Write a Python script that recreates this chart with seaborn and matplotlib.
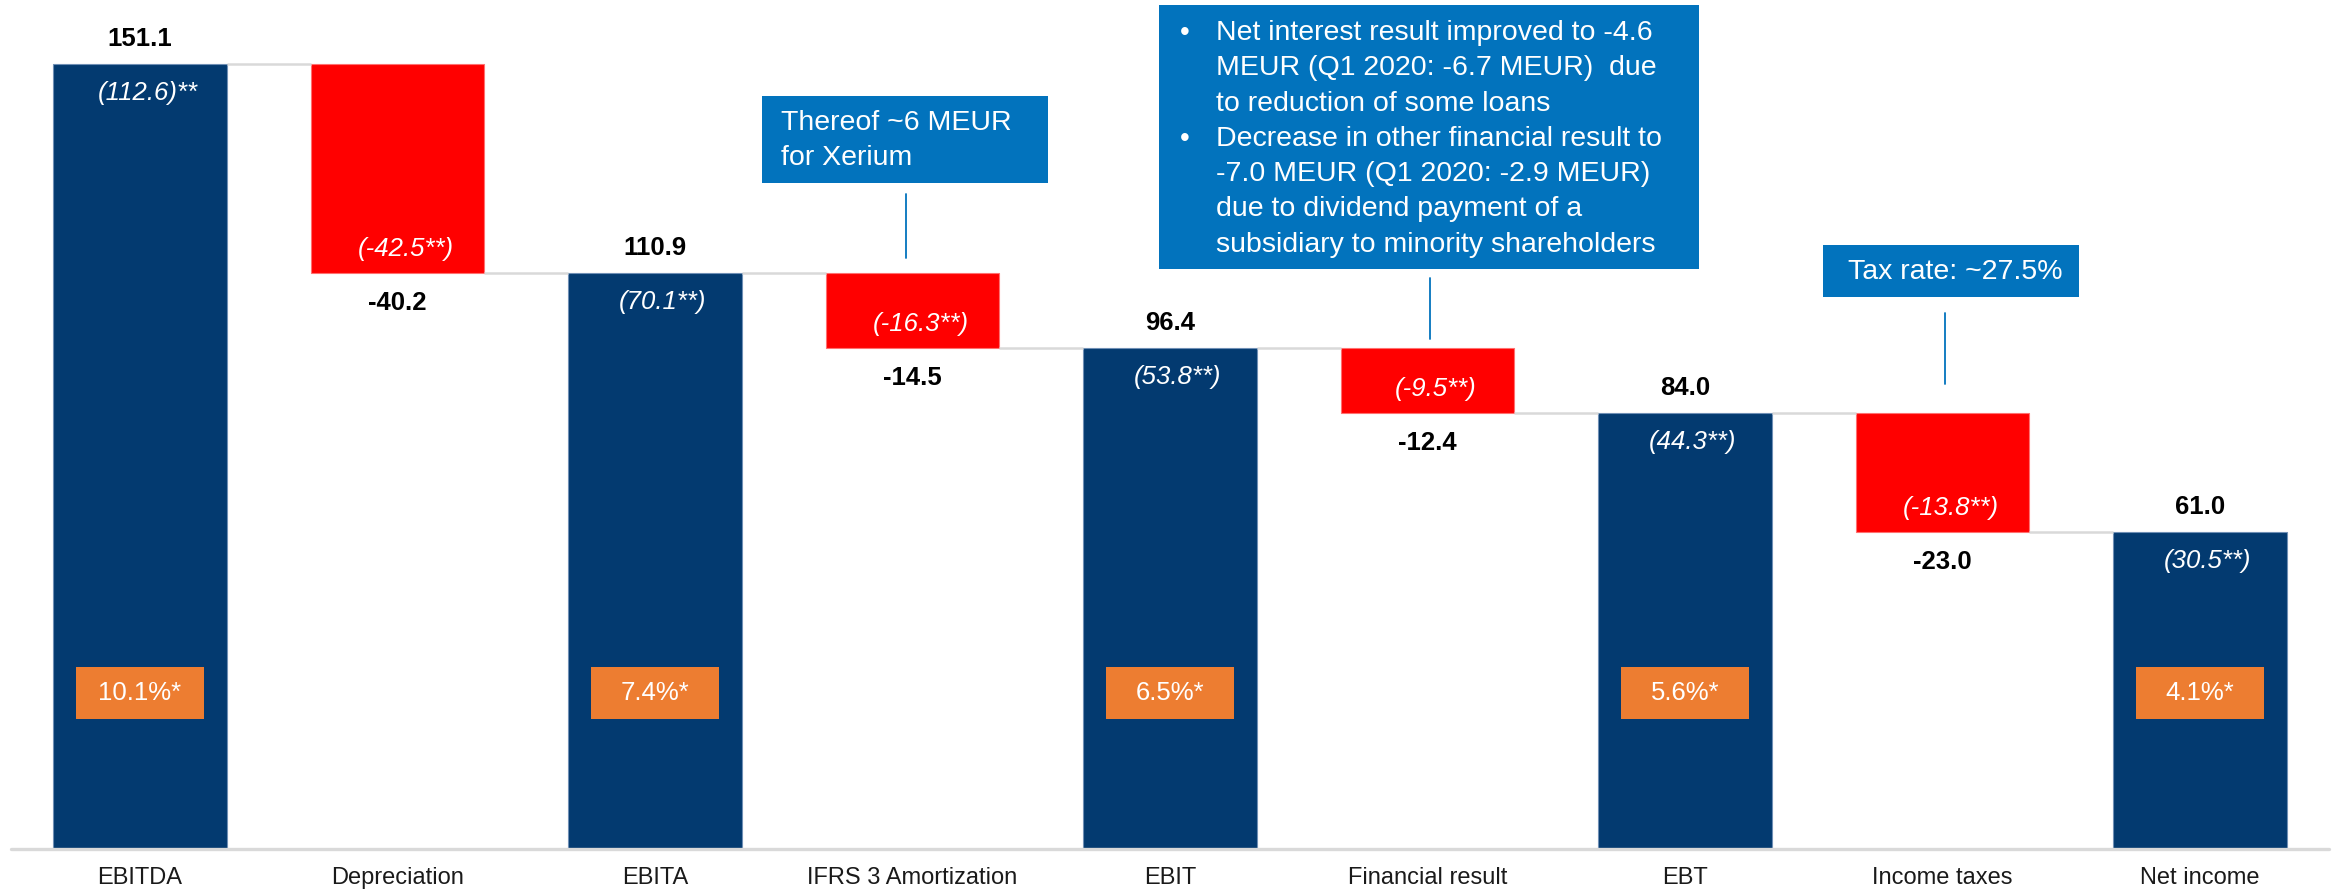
import matplotlib
matplotlib.use("Agg")
import matplotlib.pyplot as plt
from matplotlib.patches import Rectangle
from matplotlib.lines import Line2D
import seaborn as sns
import pandas as pd

# ---------------- data ----------------
categories = ["EBITDA", "Depreciation", "EBITA", "IFRS 3 Amortization", "EBIT",
              "Financial result", "EBT", "Income taxes", "Net income"]
values = [151.1, -40.2, 110.9, -14.5, 96.4, -12.4, 84.0, -23.0, 61.0]
is_total = [True, False, True, False, True, False, True, False, True]
value_labels = ["151.1", "-40.2", "110.9", "-14.5", "96.4", "-12.4", "84.0", "-23.0", "61.0"]
prior_labels = ["(112.6)**", "(-42.5**)", "(70.1**)", "(-16.3**)", "(53.8**)",
                "(-9.5**)", "(44.3**)", "(-13.8**)", "(30.5**)"]
margin_labels = ["10.1%*", "7.4%*", "6.5%*", "5.6%*", "4.1%*"]

note_xerium = ["Thereof ~6 MEUR", "for Xerium"]
note_financial = [
    ("•", "Net interest result improved to -4.6"),
    ("", "MEUR (Q1 2020: -6.7 MEUR)  due"),
    ("", "to reduction of some loans"),
    ("•", "Decrease in other financial result to"),
    ("", "-7.0 MEUR (Q1 2020: -2.9 MEUR)"),
    ("", "due to dividend payment of a"),
    ("", "subsidiary to minority shareholders"),
]
note_tax = "Tax rate: ~27.5%"

# ---------------- style ----------------
NAVY = "#033A70"
RED = "#FF0000"
ORANGE = "#ED7D31"
BOXBLUE = "#0273BD"
GRAY = "#D9D9D9"

sns.set_theme(style="white")
plt.rcParams["font.family"] = ["Liberation Sans", "DejaVu Sans"]

W, H = 2333, 893
fig = plt.figure(figsize=(W / 100, H / 100), dpi=100)
ax_left, ax_right, ax_bottom = 11.25, 2328.75, 849.0
ax = fig.add_axes([ax_left / W, 1 - ax_bottom / H, (ax_right - ax_left) / W, ax_bottom / H])

# waterfall geometry
bottoms, heights = [], []
level = 0.0
for v, t in zip(values, is_total):
    if t:
        bottoms.append(0.0)
        heights.append(v)
        level = v
    else:
        top = level
        level = level + v
        bottoms.append(level)
        heights.append(top - level)

df = pd.DataFrame({"category": categories, "height": heights, "bottom": bottoms,
                   "total": is_total})

BAR_W = 0.673
for i in range(len(df)):
    row = df.iloc[i]
    col = NAVY if row["total"] else RED
    edge = "#6f8fb5" if row["total"] else "#ff7070"
    sns.barplot(data=df.iloc[[i]], x="category", y="height", order=categories,
                bottom=row["bottom"], color=col, width=BAR_W, saturation=1,
                errorbar=None, edgecolor=edge, linewidth=0.8, ax=ax)

ymax = ax_bottom / 5.195
ax.set_xlim(-0.5, len(categories) - 0.5)
ax.set_ylim(0, ymax)

# connectors
for i in range(len(categories) - 1):
    lvl = bottoms[i] + heights[i] if is_total[i] else bottoms[i]
    ax.plot([i + BAR_W / 2, i + 1 - BAR_W / 2], [lvl, lvl], color=GRAY, lw=1.8,
            solid_capstyle="butt", zorder=1)

# baseline
ax.axhline(0, color=GRAY, lw=2.4, clip_on=False, zorder=3)

# labels on bars
px = 72 / 100  # points per pixel
for i in range(len(categories)):
    top = bottoms[i] + heights[i]
    bot = bottoms[i]
    if is_total[i]:
        ax.annotate(value_labels[i], (i, top), xytext=(0, 25 * px), textcoords="offset points",
                    ha="center", va="center", fontsize=18.5, fontweight="bold", color="black")
        ax.annotate(prior_labels[i], (i, top), xytext=(8 * px, -29 * px), textcoords="offset points",
                    ha="center", va="center", fontsize=18.5, fontstyle="italic", color="white")
    else:
        ax.annotate(value_labels[i], (i, bot), xytext=(0, -30 * px), textcoords="offset points",
                    ha="center", va="center", fontsize=18.5, fontweight="bold", color="black")
        ax.annotate(prior_labels[i], (i, bot), xytext=(8 * px, 24 * px), textcoords="offset points",
                    ha="center", va="center", fontsize=18.5, fontstyle="italic", color="white")

# margin boxes in the total bars
total_idx = [i for i, t in enumerate(is_total) if t]
box_w = 128 / 257.5
box_h = 52 / 5.195
box_yc = (ax_bottom - 693) / 5.195
for i, lab in zip(total_idx, margin_labels):
    ax.add_patch(Rectangle((i - box_w / 2, box_yc - box_h / 2), box_w, box_h,
                           facecolor=ORANGE, edgecolor="none", zorder=4))
    ax.text(i, box_yc, lab, ha="center", va="center", fontsize=18.5, color="white", zorder=5)

# axes cosmetics
sns.despine(ax=ax, left=True, bottom=True)
ax.set_yticks([])
ax.set_xlabel("")
ax.set_ylabel("")
ax.set_xticks(range(len(categories)))
ax.set_xticklabels(categories, fontsize=17, color="#1a1a1a")
ax.tick_params(axis="x", length=0, pad=13)


def F(x, y):
    return x / W, 1 - y / H


def fig_rect(x0, y0, x1, y1, color):
    fx, fy = F(x0, y1)
    fig.add_artist(Rectangle((fx, fy), (x1 - x0) / W, (y1 - y0) / H,
                             transform=fig.transFigure, facecolor=color, edgecolor="none"))


def fig_vline(x, y0, y1):
    fig.add_artist(Line2D([x / W, x / W], [1 - y0 / H, 1 - y1 / H],
                          transform=fig.transFigure, color=BOXBLUE, lw=1.3))


# Xerium note
fig_rect(762, 96, 1048, 183, BOXBLUE)
for k, line in enumerate(note_xerium):
    fig.text(*F(781, 123 + 35 * k), line, ha="left", va="center", fontsize=20.5, color="white")
fig_vline(906, 194, 258)

# Financial result note
fig_rect(1159, 5, 1699, 269, BOXBLUE)
for k, (b, line) in enumerate(note_financial):
    yy = 33 + 35.3 * k
    if b:
        fig.text(*F(1185, yy), b, ha="center", va="center", fontsize=20, color="white")
    fig.text(*F(1216, yy), line, ha="left", va="center", fontsize=20.5, color="white")
fig_vline(1430, 278, 339)

# Tax note
fig_rect(1823, 245, 2079, 297, BOXBLUE)
fig.text(*F(1848, 272), note_tax, ha="left", va="center", fontsize=20.5, color="white")
fig_vline(1945, 313, 384)

fig.savefig("out.png", dpi=100)
